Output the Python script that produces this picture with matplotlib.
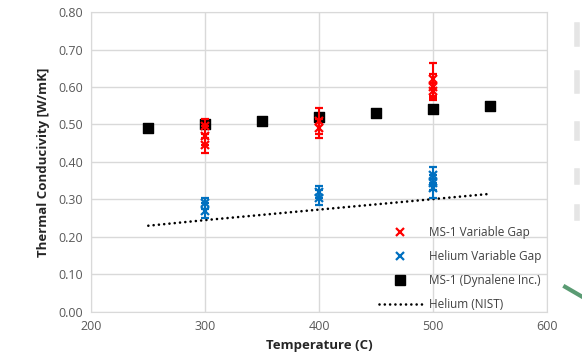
import numpy as np
import matplotlib.pyplot as plt
from matplotlib.lines import Line2D

# MS-1 variable gap measurements (temperature, conductivity, error)
ms1_temp = [300, 300, 300, 400, 400, 500, 500, 500]
ms1_k = [0.495, 0.470, 0.445, 0.510, 0.490, 0.620, 0.600, 0.590]
ms1_err = [0.020, 0.025, 0.020, 0.035, 0.025, 0.045, 0.035, 0.020]

# Helium variable gap measurements
he_temp = [300, 300, 400, 400, 500, 500, 500]
he_k = [0.290, 0.270, 0.320, 0.305, 0.365, 0.345, 0.330]
he_err = [0.015, 0.020, 0.015, 0.020, 0.022, 0.020, 0.025]

# Reference data
dyn_temp = [250, 300, 350, 400, 450, 500, 550]
dyn_k = [0.49, 0.50, 0.51, 0.52, 0.53, 0.54, 0.55]

nist_temp = [250, 300, 350, 400, 450, 500, 550]
nist_k = [0.230, 0.245, 0.259, 0.273, 0.287, 0.301, 0.315]

plt.rcParams['font.family'] = ['Open Sans', 'DejaVu Sans']

fig = plt.figure(figsize=(5.82, 3.64), dpi=100)
ax = fig.add_axes([0.157, 0.143, 0.783, 0.824])

grid_c = '#d9d9d9'
dots = (0, (0.01, 2.0))
ax.set_axisbelow(True)
ax.grid(color=grid_c, linewidth=1)

ax.plot(nist_temp, nist_k, linestyle=dots, color='black',
        linewidth=1.9, dash_capstyle='round', label='Helium (NIST)', zorder=2)
ax.scatter(dyn_temp, dyn_k, marker='s', s=42, color='black',
           label='MS-1 (Dynalene Inc.)', zorder=3)
ax.errorbar(ms1_temp, ms1_k, yerr=ms1_err, fmt='x', color='#ff0000',
            ecolor='#ff0000', elinewidth=1.5, capsize=3, capthick=1.5,
            markersize=5.5, mew=1.6, label='MS-1 Variable Gap', zorder=4)
ax.errorbar(he_temp, he_k, yerr=he_err, fmt='x', color='#0070c0',
            ecolor='#0070c0', elinewidth=1.5, capsize=3, capthick=1.5,
            markersize=5.5, mew=1.6, label='Helium Variable Gap', zorder=4)

ax.set_xlim(200, 600)
ax.set_ylim(0, 0.8)
ax.set_xticks(np.arange(200, 601, 100))
ax.set_yticks(np.arange(0, 0.81, 0.1))
ax.yaxis.set_major_formatter(plt.FormatStrFormatter('%.2f'))
ax.tick_params(length=0, labelsize=9, colors='#595959', pad=6)
for s in ax.spines.values():
    s.set_color(grid_c)

ax.set_xlabel('Temperature (C)', fontsize=9.5, fontweight='bold', color='#262626')
ax.set_ylabel('Thermal Conducivity [W/mK]', fontsize=9.5, fontweight='bold',
              color='#262626', labelpad=6)

handles = [
    Line2D([], [], marker='x', color='#ff0000', linestyle='none', markersize=5.5, mew=1.6),
    Line2D([], [], marker='x', color='#0070c0', linestyle='none', markersize=5.5, mew=1.6),
    Line2D([], [], marker='s', color='black', linestyle='none', markersize=6.5),
    Line2D([], [], color='black', linestyle=dots, linewidth=1.9,
           dash_capstyle='round'),
]
labels = ['MS-1 Variable Gap', 'Helium Variable Gap', 'MS-1 (Dynalene Inc.)', 'Helium (NIST)']
leg = ax.legend(handles, labels, loc='lower right', frameon=False, fontsize=8.5,
                handlelength=3.6, handletextpad=0.6, labelspacing=0.95,
                borderaxespad=0.1, bbox_to_anchor=(1.0, -0.018))
for t in leg.get_texts():
    t.set_color('#404040')

# stray bits of neighbouring artwork at the right edge
fig.add_artist(Line2D([0.971, 1.0], [0.212, 0.185], color='#3d8a5a',
                      linewidth=3, alpha=0.85, transform=fig.transFigure))
for y0, y1 in [(0.88, 0.93), (0.75, 0.80), (0.62, 0.66), (0.50, 0.53), (0.40, 0.43)]:
    fig.add_artist(Line2D([0.992, 0.992], [y0, y1], color='#d4d4d4',
                          linewidth=4, alpha=0.6, transform=fig.transFigure))

fig.savefig('out.png', dpi=100)
